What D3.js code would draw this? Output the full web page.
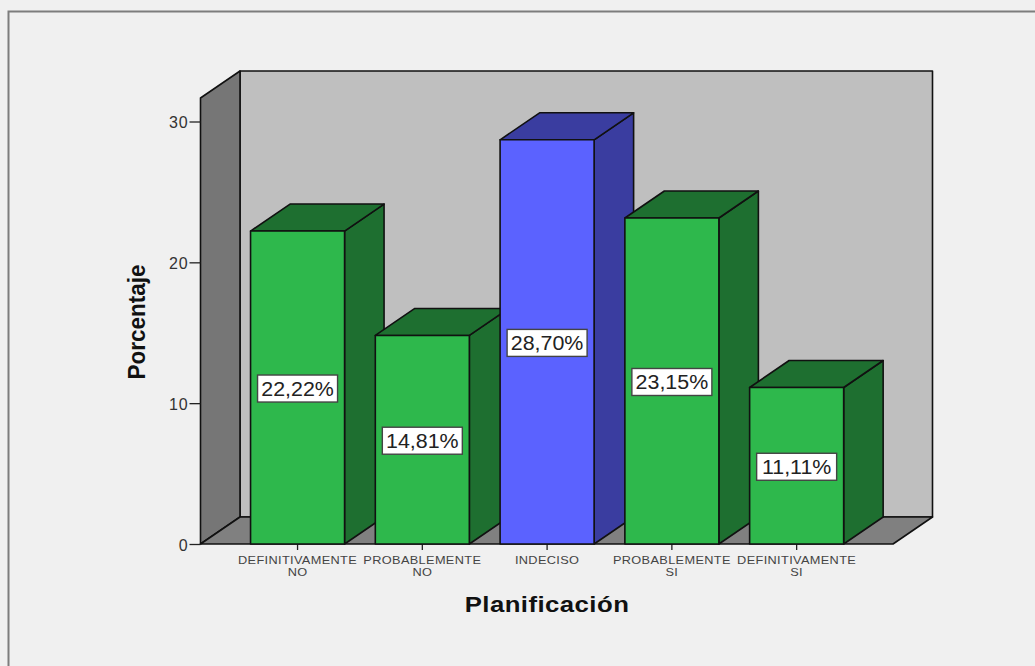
<!DOCTYPE html>
<html>
<head>
<meta charset="utf-8">
<script src="https://cdn.jsdelivr.net/npm/d3@7/dist/d3.min.js"></script>
<style>
html,body{margin:0;padding:0;background:#f0f0f0;overflow:hidden}
svg{display:block}
text{font-family:"Liberation Sans",Arial,sans-serif}
</style>
</head>
<body>
<svg id="chart" width="1035" height="666"></svg>
<script>
// Chart values
const categories = [["DEFINITIVAMENTE","NO"],["PROBABLEMENTE","NO"],["INDECISO"],["PROBABLEMENTE","SI"],["DEFINITIVAMENTE","SI"]];
const values = [22.22, 14.81, 28.70, 23.15, 11.11];
const valueLabels = ["22,22%","14,81%","28,70%","23,15%","11,11%"];
const yTicks = [0, 10, 20, 30];
const highlighted = [false, false, true, false, false];

// Plot frame
const baseY = 544, depthX = 39.5, depthY = -27;
const axisLeft = 200.5, axisRight = 893, topY = 98;

const svg = d3.select("#chart");
const y = d3.scaleLinear().domain([0, 30]).range([baseY, 121.5]);
const x = d3.scaleBand().domain(d3.range(categories.length)).range([235.2, 859]).paddingInner(0.2465).paddingOuter(0.123);

const line = pts => "M" + pts.map(p => p.join(",")).join("L") + "Z";
const stroke = "#111";

// Outer chart border
svg.append("path").attr("d", "M8.5,666V11.5H1035").attr("fill", "none").attr("stroke", "#7d7d7d").attr("stroke-width", 2);

// Walls and floor of the box
const walls = svg.append("g").attr("stroke", stroke).attr("stroke-width", 1.6).attr("stroke-linejoin", "round");
walls.append("path").attr("fill", "#bfbfbf")
  .attr("d", line([[axisLeft+depthX, topY+depthY],[axisRight+depthX, topY+depthY],[axisRight+depthX, baseY+depthY],[axisLeft+depthX, baseY+depthY]]));
walls.append("path").attr("fill", "#767676")
  .attr("d", line([[axisLeft, topY],[axisLeft+depthX, topY+depthY],[axisLeft+depthX, baseY+depthY],[axisLeft, baseY]]));
walls.append("path").attr("fill", "#808080")
  .attr("d", line([[axisLeft, baseY],[axisLeft+depthX, baseY+depthY],[axisRight+depthX, baseY+depthY],[axisRight, baseY]]));

// Value axis
const yAxis = svg.append("g").attr("transform", `translate(${axisLeft},0)`)
  .call(d3.axisLeft(y).tickValues(yTicks).tickSize(11).tickPadding(1).tickFormat(d3.format("d")));
yAxis.select(".domain").remove();
yAxis.selectAll("line").attr("stroke", "#222").attr("stroke-width", 1.3);
yAxis.selectAll("text").attr("font-size", 16).attr("fill", "#333").attr("dy", "0.4em").attr("letter-spacing", 0.8)
  .style("font-family", '"Liberation Sans",Arial,sans-serif');

// Category axis
const xAxis = svg.append("g").attr("transform", `translate(0,${baseY})`)
  .call(d3.axisBottom(x).tickSize(6).tickFormat(""));
xAxis.select(".domain").remove();
xAxis.selectAll("line").attr("stroke", "#222").attr("stroke-width", 1.3);
const catText = svg.append("g").selectAll("text").data(categories).join("text")
  .attr("text-anchor", "middle").attr("font-size", 11).attr("fill", "#444")
  .attr("transform", (d, i) => `translate(${x(i) + x.bandwidth()/2},0) scale(1.16,1)`);
catText.selectAll("tspan").data(d => d).join("tspan")
  .attr("x", 0).attr("y", (d, i) => 564 + i * 12)
  .attr("letter-spacing", 0.3)
  .text(d => d);

// Bars, left to right so nearer faces overlap correctly
const bars = svg.append("g").attr("stroke", stroke).attr("stroke-width", 1.6).attr("stroke-linejoin", "round")
  .selectAll("g").data(values).join("g");
const w = x.bandwidth();
bars.append("path").attr("fill", (d, i) => highlighted[i] ? "#3a3da0" : "#1e6f30")
  .attr("d", (d, i) => line([[x(i)+w, y(d)],[x(i)+w+depthX, y(d)+depthY],[x(i)+w+depthX, baseY+depthY],[x(i)+w, baseY]]));
bars.append("path").attr("fill", (d, i) => highlighted[i] ? "#3a3da0" : "#1e6f30")
  .attr("d", (d, i) => line([[x(i), y(d)],[x(i)+depthX, y(d)+depthY],[x(i)+w+depthX, y(d)+depthY],[x(i)+w, y(d)]]));
bars.append("rect").attr("fill", (d, i) => highlighted[i] ? "#5b62ff" : "#2eb84c")
  .attr("x", (d, i) => x(i)).attr("y", d => y(d)).attr("width", w).attr("height", d => baseY - y(d));

// Value labels at the middle of each bar
const labels = svg.append("g").selectAll("g").data(values).join("g")
  .attr("transform", (d, i) => `translate(${x(i) + w/2},${(y(d) + baseY)/2 + 1})`);
labels.append("rect").attr("x", -40).attr("y", -13.5).attr("width", 80).attr("height", 27)
  .attr("fill", "#fff").attr("stroke", "#444").attr("stroke-width", 1.4);
labels.append("text").attr("text-anchor", "middle").attr("dy", "0.36em")
  .attr("transform", "scale(1.07,1)")
  .attr("font-size", 20).attr("fill", "#222")
  .text((d, i) => valueLabels[i]);

// Axis titles
svg.append("text").attr("transform", "translate(547,612) scale(1.12,1)").attr("text-anchor", "middle")
  .attr("font-size", 23).attr("font-weight", "bold").attr("fill", "#111").attr("letter-spacing", 0.4).text("Planificación");
svg.append("text").attr("transform", "translate(145,322) rotate(-90) scale(1.07,1.12)").attr("text-anchor", "middle")
  .attr("font-size", 21).attr("font-weight", "bold").attr("fill", "#111").text("Porcentaje");
</script>
</body>
</html>
